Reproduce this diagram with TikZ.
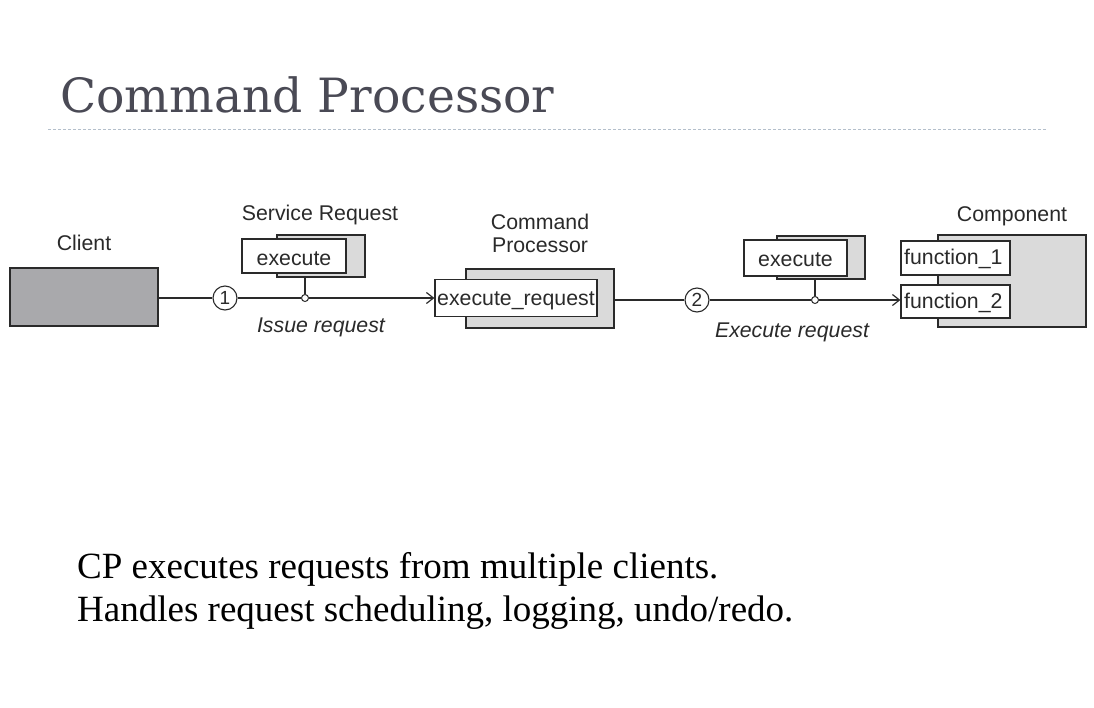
\documentclass[tikz,border=0pt]{standalone}
\usepackage{fontspec}
\setmainfont{Liberation Serif}
\setsansfont{Liberation Sans}
\newfontfamily\titlefont{DejaVu Serif}
\usetikzlibrary{arrows.meta}
\definecolor{titlegray}{HTML}{4A4A55}
\definecolor{rulegray}{HTML}{B4BFCB}
\definecolor{clientfill}{HTML}{A9A9AC}
\definecolor{shadefill}{HTML}{DADADA}
\definecolor{ink}{HTML}{2A2A2A}
\begin{document}
\begin{tikzpicture}[x=1pt,y=-1pt,
  lbl/.style={font=\sffamily\fontsize{21.3}{23}\selectfont, text=ink, inner sep=0pt, anchor=base},
  ital/.style={lbl, font=\sffamily\itshape\fontsize{21.3}{23}\selectfont},
  backbox/.style={draw=ink, line width=1.2pt, fill=shadefill, inner sep=0pt},
  frontbox/.style={draw=ink, line width=1.2pt, fill=white, inner sep=0pt},
  wire/.style={draw=ink, line width=1.2pt},
  num/.style={circle, draw=ink, line width=1.1pt, fill=white, minimum size=24pt, inner sep=0pt,
    font=\sffamily\fontsize{19}{19}\selectfont, text=ink},
  joint/.style={circle, draw=ink, line width=1pt, fill=white, minimum size=7pt, inner sep=0pt},
  wtip/.style={-{Straight Barb[length=7pt,width=11pt,line width=1.2pt]}}
]
\useasboundingbox (0,0) rectangle (1094,707);

% heading and rule
\node[font=\titlefont\fontsize{47.2}{50}\selectfont, text=titlegray, anchor=base west, inner sep=0pt]
  (title) at (60,112) {Command Processor};
\draw[rulegray, line width=1pt, dash pattern=on 3pt off 2pt] (48,129) coordinate (ruleL) -- (1046,129) coordinate (ruleR);

% client
\node[draw=ink, line width=1.4pt, fill=clientfill, minimum width=148pt, minimum height=58pt, inner sep=0pt]
  (client) at (84,297) {};
\node[lbl] (clientlbl) at (84,250) {Client};

% service request object
\node[backbox, minimum width=88pt, minimum height=42pt] (svcback) at (321,256) {};
\node[frontbox, minimum width=104pt, minimum height=34pt] (svcfront) at (294,256) {};
\node[lbl] (svcexec) at (294,265) {execute};
\node[lbl] (svclbl) at (320,220) {Service Request};

% command processor
\node[backbox, minimum width=148pt, minimum height=59pt] (cpback) at (540,298.5) {};
\node[frontbox, minimum width=162pt, minimum height=37pt] (cpfront) at (516,298) {};
\node[lbl, anchor=base west] (cpreq) at (437,305) {execute\_request};
\node[lbl] (cplbl1) at (540,229) {Command};
\node[lbl] (cplbl2) at (540,252) {Processor};

% command object
\node[backbox, minimum width=88pt, minimum height=43pt] (cmdback) at (821,257.5) {};
\node[frontbox, minimum width=103pt, minimum height=36pt] (cmdfront) at (795.5,258) {};
\node[lbl] (cmdexec) at (795.5,266) {execute};

% component
\node[backbox, minimum width=148pt, minimum height=92pt] (compback) at (1012,281) {};
\node[frontbox, minimum width=109pt, minimum height=34pt] (fone) at (955.5,258) {};
\node[frontbox, minimum width=109pt, minimum height=33pt] (ftwo) at (955.5,301.5) {};
\node[lbl, anchor=base west] (fonetxt) at (904,264) {function\_1};
\node[lbl, anchor=base west] (ftwotxt) at (904,308) {function\_2};
\node[lbl] (complbl) at (1012,221) {Component};

% step markers and junctions
\node[num] (stepone) at (225,298) {1};
\node[joint] (jone) at (305,298) {};
\node[num] (steptwo) at (697,300) {2};
\node[joint] (jtwo) at (815,300) {};

% connectors
\draw[wire] (client.east |- stepone) -- (stepone.west);
\draw[wire] (stepone.east) -- (jone.west);
\draw[wire, wtip] (jone.east) -- (cpfront.west);
\draw[wire] (jone.north) -- (jone |- svcback.south);
\draw[wire] (cpback.east |- steptwo) -- (steptwo.west);
\draw[wire] (steptwo.east) -- (jtwo.west);
\draw[wire, wtip] (jtwo.east) -- (ftwo.west |- jtwo);
\draw[wire] (jtwo.north) -- (jtwo |- cmdback.south);

% request labels
\node[ital] (issue) at (321,332) {Issue request};
\node[ital] (exreq) at (792,337) {Execute request};

% notes
\node[font=\fontsize{37}{40}\selectfont, anchor=base west, inner sep=0pt] (noteone) at (77,578)
  {CP executes requests from multiple clients.};
\node[font=\fontsize{37}{40}\selectfont, anchor=base west, inner sep=0pt] (notetwo) at (77,621)
  {Handles request scheduling, logging, undo/redo.};
\end{tikzpicture}
\end{document}
